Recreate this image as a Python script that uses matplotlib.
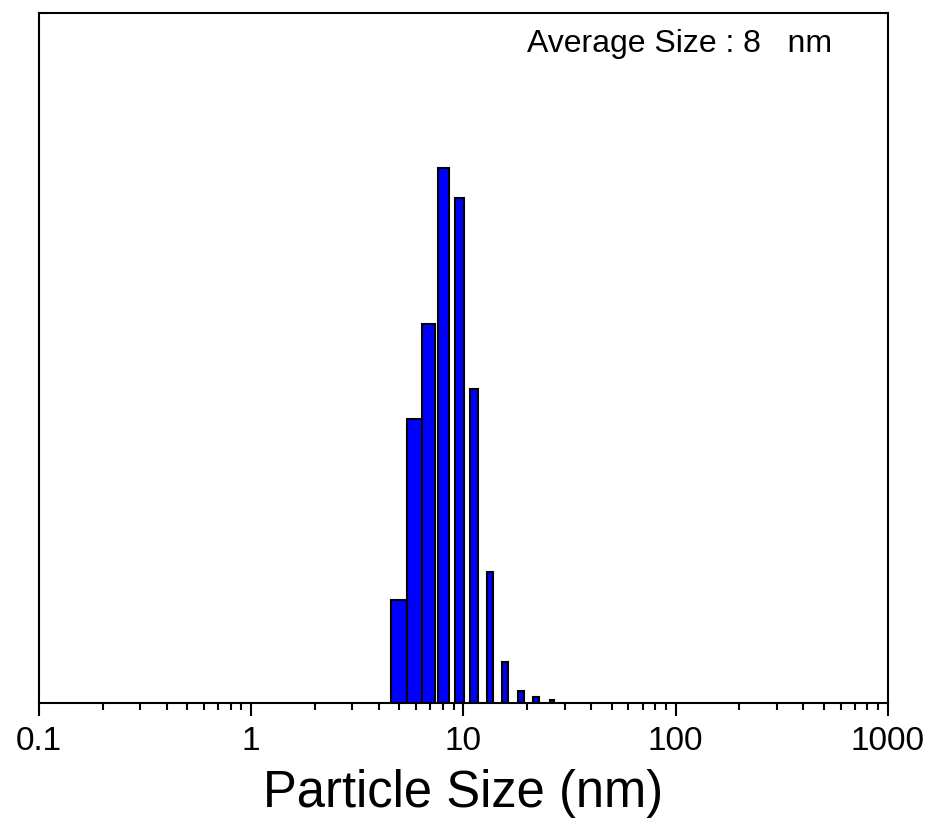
import matplotlib
matplotlib.use('Agg')
import matplotlib.pyplot as plt
import numpy as np

plt.rcParams['font.family'] = ['Liberation Sans', 'DejaVu Sans']

# Size distribution bins (nm) and share of particles (%)
bin_left = [4.55, 5.42, 6.42, 7.59, 9.12, 10.73, 12.90, 15.19, 18.06, 21.26, 25.55]
bin_width = [0.87, 1.00, 0.92, 0.96, 0.94, 0.97, 0.87, 1.02, 1.22, 1.43, 1.14]
percent = [4.47, 12.33, 16.46, 23.27, 21.93, 13.63, 5.69, 1.78, 0.52, 0.26, 0.13]

x_ticks = [0.1, 1, 10, 100, 1000]
x_tick_labels = ['0.1', '1', '10', '100', '1000']

fig = plt.figure(figsize=(9.3, 8.35), dpi=100)
ax = fig.add_axes([0.0419, 0.158, 0.9126, 0.8268])

ax.bar(bin_left, percent, width=bin_width, align='edge',
       color='#0000ff', edgecolor='black', linewidth=1.5)

ax.set_xscale('log')
ax.set_xlim(0.1, 1000)
ax.set_ylim(0, 30)

ax.set_xticks(x_ticks)
ax.set_xticklabels(x_tick_labels)
ax.tick_params(axis='x', which='major', direction='out', length=9.5, width=1.5,
               labelsize=24, pad=7)
ax.tick_params(axis='x', which='minor', direction='out', length=5, width=1.5)
ax.set_yticks([])

for s in ax.spines.values():
    s.set_linewidth(1.5)

ax.set_xlabel('Particle Size (nm)', fontsize=36.5, labelpad=9)

ax.text(0.934, 0.943, 'Average Size : 8   nm', transform=ax.transAxes,
        ha='right', va='baseline', fontsize=23)

fig.savefig('out.png', dpi=100)
